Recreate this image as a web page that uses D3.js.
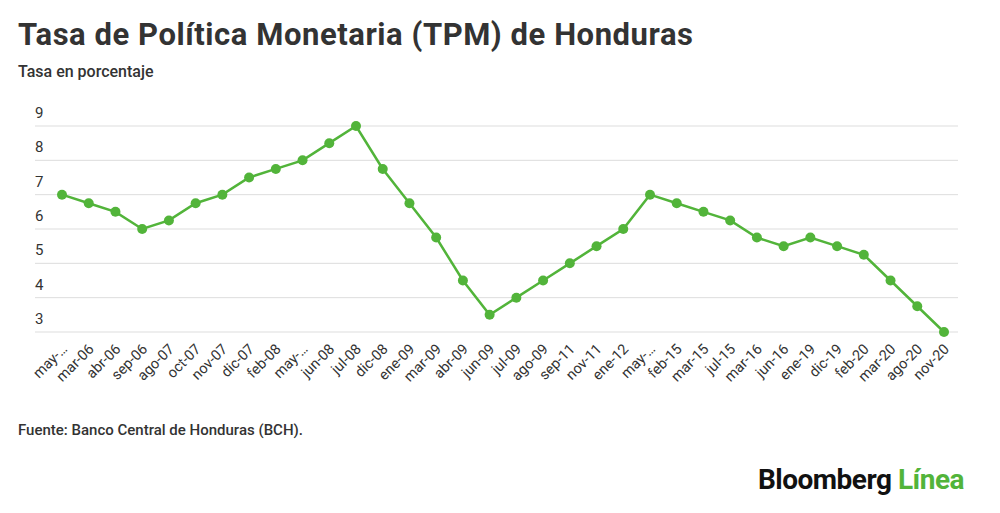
<!DOCTYPE html>
<html><head><meta charset="utf-8">
<script src="https://cdn.jsdelivr.net/npm/d3@7"></script>
<style>body{margin:0;background:#fff;font-family:Roboto,sans-serif}</style>
</head><body><svg width="1000" height="513"></svg>
<script>
const categories=["may-…","mar-06","abr-06","sep-06","ago-07","oct-07","nov-07","dic-07","feb-08","may-…","jun-08","jul-08","dic-08","ene-09","mar-09","abr-09","jun-09","jul-09","ago-09","sep-11","nov-11","ene-12","may-…","feb-15","mar-15","jul-15","mar-16","jun-16","ene-19","dic-19","feb-20","mar-20","ago-20","nov-20"];
const values=[7,6.75,6.5,6,6.25,6.75,7,7.5,7.75,8,8.5,9,7.75,6.75,5.75,4.5,3.5,4,4.5,5,5.5,6,7,6.75,6.5,6.25,5.75,5.5,5.75,5.5,5.25,4.5,3.75,3];
const yTicks=[3,4,5,6,7,8,9];
const svg=d3.select("svg");
svg.append("text").attr("x",18).attr("y",45).attr("font-size",31).attr("font-weight",700).attr("fill","#333").attr("textLength",675).text("Tasa de Política Monetaria (TPM) de Honduras");
svg.append("text").attr("x",18).attr("y",77).attr("font-size",16).attr("font-weight",500).attr("fill","#333").text("Tasa en porcentaje");
const idx=d3.range(categories.length);
const x=d3.scalePoint().domain(idx).range([62,944]);
const y=d3.scaleLinear().domain([3,9]).range([332,126]);
const g=svg.append("g");
yTicks.forEach(t=>{
 g.append("line").attr("x1",35).attr("x2",958).attr("y1",y(t)).attr("y2",y(t)).attr("stroke","#ddd");
 g.append("text").attr("x",35).attr("y",y(t)-8).attr("font-size",15).attr("fill","#333").text(t);
});
categories.forEach((c,i)=>{
 g.append("text").attr("transform",`translate(${x(i)+6},${350}) rotate(-45)`).attr("text-anchor","end").attr("font-size",14.5).attr("fill","#333").text(c);
});
const line=d3.line().x((d,i)=>x(i)).y(d=>y(d));
g.append("path").datum(values).attr("d",line).attr("fill","none").attr("stroke","#52b43a").attr("stroke-width",2.5);
g.selectAll("circle").data(values).join("circle").attr("cx",(d,i)=>x(i)).attr("cy",d=>y(d)).attr("r",5).attr("fill","#52b43a");
svg.append("text").attr("x",18).attr("y",435).attr("font-size",15).attr("font-weight",500).attr("fill","#333").text("Fuente: Banco Central de Honduras (BCH).");
const t=svg.append("text").attr("x",964).attr("y",489).attr("text-anchor","end").attr("font-size",28).attr("font-weight",700).attr("letter-spacing",-0.5);
t.append("tspan").attr("fill","#111").text("Bloomberg ");
t.append("tspan").attr("fill","#52b43a").text("Línea");
</script></body></html>
